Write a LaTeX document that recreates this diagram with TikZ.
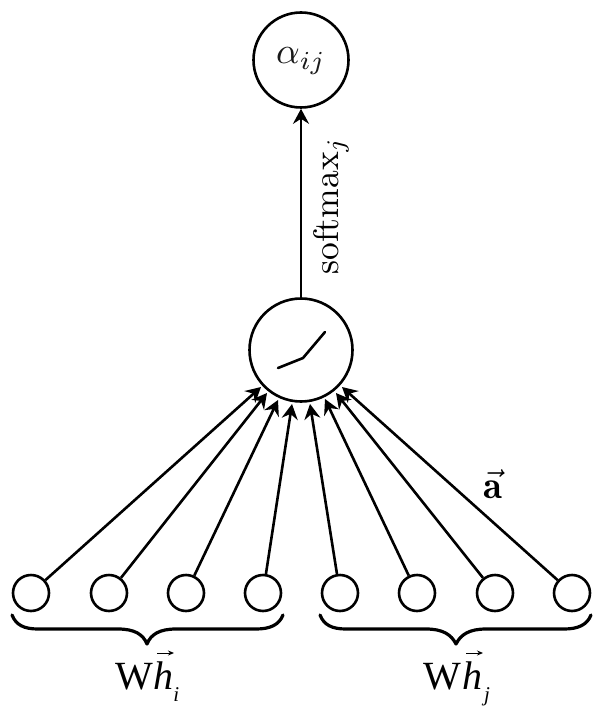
\documentclass[tikz,border=0pt]{standalone}
\usepackage{fontspec}
\usepackage{amsmath}
\usetikzlibrary{arrows.meta}
\newfontfamily\timesf{Liberation Serif}
\tikzset{
  x=1pt,y=-1pt,
  big/.style={circle,draw=black,line width=2.6pt,minimum size=#1,inner sep=0pt,fill=white},
  small/.style={circle,draw=black,line width=2.6pt,minimum size=36pt,inner sep=0pt,fill=white},
  conn/.style={line width=2.6pt,draw=black,-{Stealth[length=15pt,width=16pt,inset=5pt]}},
  bracepath/.style={line width=3.2pt,line cap=round,line join=round,draw=black},
  hlab/.style={inner sep=0pt,font=\fontsize{40}{40}\timesf,anchor=base west},
  sublab/.style={inner sep=0pt,font=\fontsize{21}{21}\timesf\itshape,anchor=base west},
  veca/.style={line width=1pt,-{Stealth[length=6pt,width=5pt]}}
}
\begin{document}
\begin{tikzpicture}
\useasboundingbox (0,0) rectangle (602,711);
\node[big=95pt] (top) at (301,60) {};
\node[inner sep=0pt,scale=3.7,text=black!90] (alpha) at (301,61) {$\alpha_{ij}$};
\node[big=103pt] (mid) at (301,350) {};
\draw[line width=2.6pt,line cap=round,line join=round,black] (278,368) -- (303,358) -- (325,332);
\foreach \n/\x in {1/31,2/109,3/186,4/263,5/340,6/417,7/495,8/572}{
  \node[small] (s\n) at (\x,593) {};
}
\coordinate (t1) at (261,387);
\coordinate (t2) at (267,393);
\coordinate (t3) at (278,400);
\coordinate (t4) at (292,404);
\coordinate (t5) at (310,404);
\coordinate (t6) at (325,399);
\coordinate (t7) at (336,393);
\coordinate (t8) at (342,387);
\foreach \n in {1,...,8}{ \draw[conn] (s\n) -- (t\n); }
\draw[conn] (mid) -- (top);
\node[rotate=90,inner sep=0pt,scale=3.55] (sm) at (331,206) {softmax$_j$};
\node[inner sep=0pt,scale=3.9] (a) at (493,484) {$\vec{\mathbf a}$};
% braces
\draw[bracepath] (12,615) .. controls (16,625) and (24,629) .. (38,629) -- (118,629) .. controls (134,629) and (143,634) .. (147,644)
  .. controls (151,634) and (160,629) .. (176,629) -- (256,629) .. controls (270,629) and (279,625) .. (283,615);
\draw[bracepath] (320,615) .. controls (324,625) and (332,629) .. (346,629) -- (426,629) .. controls (442,629) and (451,634) .. (456,644)
  .. controls (461,634) and (470,629) .. (486,629) -- (564,629) .. controls (578,629) and (587,625) .. (591,615);
% labels
\node[hlab] (w1) at (115,689) {W};
\node[hlab,font=\fontsize{40}{40}\timesf\itshape] (h1) at (153,689) {h};
\node[sublab] (i1) at (173.2,701) {i};
\coordinate (a1s) at (157,653);\coordinate (a1e) at (174,653);
\draw[veca] (a1s) -- (a1e);
\node[hlab] (w2) at (423,689) {W};
\node[hlab,font=\fontsize{40}{40}\timesf\itshape] (h2) at (462,689) {h};
\node[sublab] (j2) at (484,701) {j};
\coordinate (a2s) at (466,653);\coordinate (a2e) at (483,653);
\draw[veca] (a2s) -- (a2e);
\end{tikzpicture}
\end{document}
